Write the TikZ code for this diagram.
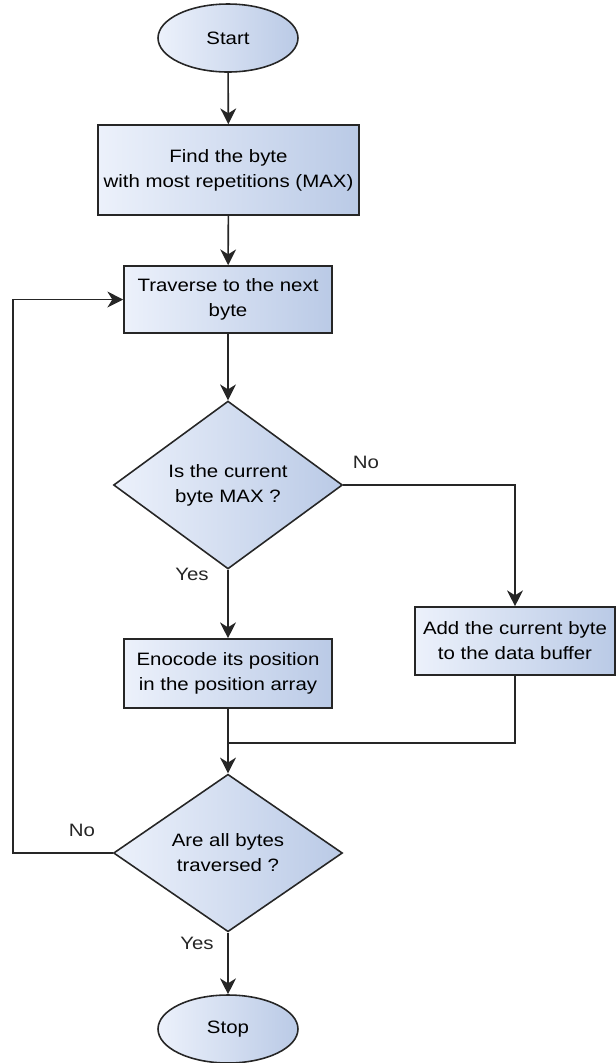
\documentclass[tikz,border=0pt]{standalone}
\usepackage{fontspec}
\setmainfont{Liberation Sans}[FakeStretch=1.14]
\usetikzlibrary{shapes.geometric,arrows.meta}
\definecolor{fillLight}{RGB}{236,241,251}
\definecolor{fillDark}{RGB}{186,202,230}
\definecolor{edgeGray}{RGB}{38,38,38}

\begin{document}
\begin{tikzpicture}[x=0.02cm, y=-0.02cm,
  font=\fontsize{10.2}{14.2}\selectfont,
  shaded/.style={draw=edgeGray, line width=0.9pt, left color=fillLight, right color=fillDark, align=center, inner sep=1pt},
  procbox/.style={shaded, rectangle},
  terminal/.style={shaded, ellipse, minimum width=2.8cm, minimum height=1.36cm},
  decision/.style={shaded, diamond, minimum width=4.58cm, minimum height=2.8cm},
  flow/.style={draw=edgeGray, line width=0.9pt, -{Stealth[length=9pt,width=9pt,inset=2.8pt]}},
  wire/.style={draw=edgeGray, line width=0.9pt},
  lbl/.style={text=black!85}]

\useasboundingbox (0,0) rectangle (616,1063);

% ---- nodes ----
\node[terminal] (start) at (228,38) {Start};
\node[procbox, minimum width=5.22cm, minimum height=1.8cm] (find) at (228.5,170) {Find the byte\\with most repetitions (MAX)};
\node[procbox, minimum width=4.16cm, minimum height=1.34cm] (traverse) at (228,299.5) {Traverse to the next\\byte};
\node[decision] (ismax) at (228,485) {Is the current\\byte MAX ?};
\node[procbox, minimum width=4.16cm, minimum height=1.38cm] (encode) at (228,673.5) {Enocode its position\\in the position array};
\node[procbox, minimum width=4.0cm, minimum height=1.36cm] (add) at (515,641) {Add the current byte\\to the data buffer};
\node[decision] (alldone) at (228,853) {Are all bytes\\traversed ?};
\node[terminal] (stop) at (228,1029) {Stop};

% ---- free corners ----
\coordinate (merge) at (228,743);
\coordinate (loop) at (13,853);

% ---- connectors ----
\draw[flow] (start) -- (find);
\draw[flow] (find) -- (traverse);
\draw[flow] (traverse) -- (ismax);
\draw[flow] (ismax) -- (encode);
\draw[flow] (ismax.east) -| (add.north);
\draw[flow] (encode) -- (alldone);
\draw[wire] (add.south) |- (merge);
\draw[flow] (alldone) -- (stop);
\draw[flow] (alldone.west) -- (loop) |- (traverse.west);

% ---- branch labels ----
\node[lbl] (nomax) at (366,462) {No};
\node[lbl] (yesmax) at (192,574) {Yes};
\node[lbl] (nodone) at (82,830) {No};
\node[lbl] (yesdone) at (197,943) {Yes};

\end{tikzpicture}
\end{document}
